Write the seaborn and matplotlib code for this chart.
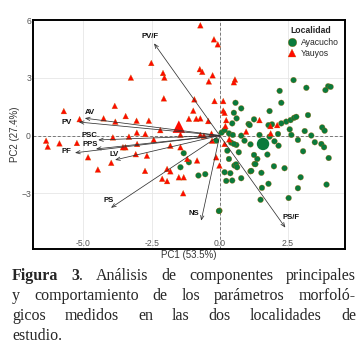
import numpy as np
import pandas as pd
import matplotlib
matplotlib.use("Agg")
import matplotlib.pyplot as plt
import seaborn as sns

# PCA scores
yau_pc1 = [-0.71, -0.21, -0.07, -2.51, -2.08, -2.03, -0.73, -0.64, -0.26, -0.40,
           0.56, 0.52, -2.05, -0.93, -0.19, 0.13, -0.97, 0.13, 0.18, -1.13,
           -0.86, -0.71, -0.42, -2.60, -3.05, 0.24, 0.21, -2.18, -1.44, -0.71,
           -2.73, -3.26, -3.85, -5.72, -3.45, -4.26, -5.14, -3.83, -6.37, -6.31,
           -5.88, -5.24, -3.92, -3.33, -3.46, -3.55, -4.83, -3.98, -4.47, -3.03,
           -2.42, -1.81, -1.44, -2.67, -1.19, -0.83, -1.93, -1.81, -2.11, -1.93,
           -1.50, -1.32, -1.34, -0.13, -0.01, 0.18, -0.28, -0.58, -3.04, -3.08,
           -2.74, 1.46, 0.97, 1.86, 2.11, 1.87, -0.30, 0.35]
yau_pc2 = [5.73, 5.00, 4.74, 3.77, 3.25, 3.01, 3.45, 3.31, 3.13, 2.81,
           2.91, 2.77, 1.93, 1.88, 1.79, 1.79, 1.29, 1.29, 1.18, 0.87,
           0.87, 0.89, 0.75, 0.77, 0.77, 0.80, 0.49, 0.28, 0.04, 0.03,
           0.08, 3.01, 1.54, 1.27, 1.01, 0.89, 0.85, 0.72, -0.27, -0.58,
           -0.41, -0.39, -0.10, -0.06, -0.61, -0.61, -1.13, -1.42, -1.77, -0.44,
           -0.22, -0.53, -0.61, -1.05, -1.22, -1.30, -1.74, -1.86, -2.25, -2.37,
           -2.17, -2.17, -3.00, -1.13, -1.56, -0.44, -0.27, -0.01, 0.15, -0.97,
           -1.84, 0.80, 0.20, 0.49, 0.54, 0.11, 0.10, -0.20]

aya_pc1 = [2.71, 3.18, 2.20, 3.98, 4.07, 3.88, 2.26, 1.83, 3.24, 0.79,
           1.26, 1.06, 2.44, 2.60, 2.73, 2.81, 2.26, 1.92, 2.57, 3.12,
           3.76, 3.85, 1.46, 0.58, 0.52, 0.62, 0.46, 0.07, 0.34, 0.91,
           2.01, 2.16, 2.87, 3.36, 3.49, 3.73, 3.83, 3.06, 4.00, 1.75,
           1.38, 1.28, 1.99, 2.38, 1.13, 1.53, 2.97, 1.79, 1.55, 2.87,
           3.92, 2.53, 1.50, -0.01, -0.53, -0.78, 0.24, 0.79, 0.39, 0.54,
           0.60, 1.16, 1.31, -1.32, -1.44, -1.13, 0.28, 0.64, 0.18, 0.46,
           1.10, 1.79, 1.83, 2.14, 2.63, 1.13, 0.79, 0.48, 0.18, 0.42,
           0.61, 1.26, -0.13, 0.52, 0.70, 0.34, -0.03]
aya_pc2 = [2.88, 2.48, 2.32, 2.56, 2.53, 2.36, 1.70, 1.27, 1.06, 1.41,
           0.84, 0.60, 0.72, 0.80, 0.92, 0.97, 0.63, 0.58, 0.32, 0.23,
           0.42, 0.25, 0.03, 1.70, 1.18, 0.89, 0.63, 0.15, 0.11, -0.27,
           -0.30, -0.53, -0.23, 0.00, -0.35, -0.44, -0.61, -0.82, -1.17, -0.99,
           -1.22, -1.48, -1.60, -1.70, -1.86, -1.94, -2.17, -2.51, -2.72, -2.74,
           -2.55, -3.25, -3.34, -3.91, -2.01, -2.08, -2.36, -2.22, -1.96, -1.56,
           -1.50, -1.84, -1.49, -0.92, -1.65, -1.39, -0.79, -1.65, -1.91, -2.34,
           0.54, 0.54, -0.06, 0.08, 0.03, -0.46, -0.01, 0.03, 0.28, -0.37,
           -0.49, -1.01, -0.27, -0.44, -0.87, -1.22, -3.93]

# group centroids
cent_loc = ["Ayacucho", "Yauyos"]
cent_pc1 = [1.59, -1.50]
cent_pc2 = [-0.44, 0.46]

# loading vectors
load_names = ["PV/F", "AV", "PV", "PSC", "PPS", "PF", "LV", "PS", "NS", "PS/F"]
load_pc1 = [-2.41, -4.95, -5.17, -4.46, -4.54, -5.31, -3.84, -3.99, -0.68, 2.41]
load_pc2 = [4.79, 0.90, 0.70, -0.23, -0.70, -0.90, -1.27, -3.76, -4.43, -4.79]
# label offsets (points) from the arrow tip
label_dx = [-3, 4, -9, -6, -4, -6, -1, -2, -5, 4]
label_dy = [5, 4, 0, 3, 3, 1, 4, 5, 5, 7]

df = pd.DataFrame({
    "PC1": aya_pc1 + yau_pc1,
    "PC2": aya_pc2 + yau_pc2,
    "Localidad": ["Ayacucho"] * len(aya_pc1) + ["Yauyos"] * len(yau_pc1),
})
cent = pd.DataFrame({"PC1": cent_pc1, "PC2": cent_pc2, "Localidad": cent_loc})

sns.set_style("whitegrid")
plt.rcParams["font.family"] = ["Liberation Sans", "DejaVu Sans"]

fig = plt.figure(figsize=(3.62, 3.5), dpi=100)
ax = fig.add_axes([0.0912, 0.2886, 0.862, 0.654])

palette = {"Ayacucho": "#0a7a3c", "Yauyos": "#ff0a00"}
markers = {"Ayacucho": "o", "Yauyos": "^"}

sns.scatterplot(data=df, x="PC1", y="PC2", hue="Localidad", style="Localidad",
                palette=palette, markers=markers, s=17, linewidth=0.2,
                edgecolor="#c06000", ax=ax, zorder=3)
sns.scatterplot(data=cent, x="PC1", y="PC2", hue="Localidad", style="Localidad",
                palette=palette, markers=markers, s=80, linewidth=0,
                ax=ax, legend=False, zorder=3)

for name, x, y, dx, dy in zip(load_names, load_pc1, load_pc2, label_dx, label_dy):
    ax.annotate("", xy=(x, y), xytext=(0, 0),
                arrowprops=dict(arrowstyle="->,head_length=0.3,head_width=0.12",
                                color="#333333", lw=0.55, shrinkA=0, shrinkB=0),
                zorder=4)
    ax.annotate(name, xy=(x, y), xytext=(dx, dy), textcoords="offset points",
                ha="center", va="center", fontsize=5.6, fontweight="bold",
                color="#111111", zorder=5)

ax.axhline(0, color="#777777", lw=0.7, ls=(0, (3, 2)), zorder=1)
ax.axvline(0, color="#777777", lw=0.7, ls=(0, (3, 2)), zorder=1)

ax.set_xlim(-6.85, 4.6)
ax.set_ylim(-5.9, 6.0)
ax.set_xticks([-5.0, -2.5, 0.0, 2.5])
ax.set_xticklabels(["-5.0", "-2.5", "0.0", "2.5"])
ax.set_yticks([-3, 0, 3, 6])
ax.grid(color="#e6e6e6", lw=0.6)
ax.tick_params(axis="both", length=0, labelsize=6.2, labelcolor="#555555")
ax.tick_params(axis="y", pad=1.5)
ax.tick_params(axis="x", pad=-7)
for sp in ax.spines.values():
    sp.set_color("black")
    sp.set_linewidth(1.4)
ax.set_xlabel("PC1 (53.5%)", fontsize=7, color="#333333", labelpad=1)
ax.set_ylabel("PC2 (27.4%)", fontsize=7, color="#333333", labelpad=1)

leg = ax.legend(title="Localidad", loc="upper right", frameon=False,
                fontsize=6.2, title_fontsize=6.2, markerscale=1.5,
                handletextpad=0.1, borderaxespad=0.3, labelspacing=0.3)
leg.get_title().set_fontweight("bold")

# caption, justified like the printed figure
serif = ["Liberation Serif", "DejaVu Serif"]
cap_size = 11.5
cap_lines = [
    [[("Figura", "bold")], [("3", "bold"), (".", "normal")], [("Análisis", "normal")],
     [("de", "normal")], [("componentes", "normal")], [("principales", "normal")]],
    [[("y", "normal")], [("comportamiento", "normal")], [("de", "normal")],
     [("los", "normal")], [("parámetros", "normal")], [("morfoló-", "normal")]],
    [[("gicos", "normal")], [("medidos", "normal")], [("en", "normal")],
     [("las", "normal")], [("dos", "normal")], [("localidades", "normal")],
     [("de", "normal")]],
    [[("estudio.", "normal")]],
]
justify = [True, True, True, False]
baselines = [280, 300, 320, 340]
W, H = 362, 350
x_left, x_right = 12, 356
renderer = fig.canvas.get_renderer()
for words, just, base in zip(cap_lines, justify, baselines):
    pieces = []
    for word in words:
        segs = []
        for txt, wt in word:
            t = fig.text(0, 1 - base / H, txt, fontsize=cap_size, family=serif,
                         fontweight=wt, va="baseline", ha="left")
            segs.append(t)
        pieces.append(segs)
    widths = [[s.get_window_extent(renderer).width for s in segs] for segs in pieces]
    total = sum(sum(w) for w in widths)
    space = renderer.points_to_pixels(cap_size) * 0.25
    if just and len(pieces) > 1:
        gap = max((x_right - x_left - total) / (len(pieces) - 1), 2)
    else:
        gap = space
    x = x_left
    for segs, ws in zip(pieces, widths):
        for s, w in zip(segs, ws):
            s.set_x(x / W)
            x += w
        x += gap

fig.savefig("out.png", dpi=100)
